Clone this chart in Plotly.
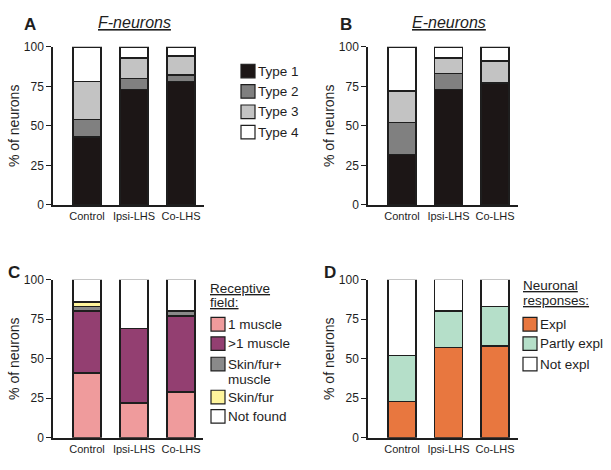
import plotly.graph_objects as go

W, H = 611, 470

groups = ["Control", "Ipsi-LHS", "Co-LHS"]

# Panel A: F-neurons
types = ["Type 1", "Type 2", "Type 3", "Type 4"]
f_type1 = [43, 73, 78]
f_type2 = [11, 7, 4]
f_type3 = [24, 13, 12]
f_type4 = [22, 7, 6]

# Panel B: E-neurons
e_type1 = [32, 73, 77]
e_type2 = [20, 10, 0]
e_type3 = [20, 10, 14]
e_type4 = [28, 7, 9]

# Panel C: receptive field
rf_labels = ["1 muscle", ">1 muscle", "Skin/fur+<br>muscle", "Skin/fur", "Not found"]
rf_one = [41, 22, 29]
rf_multi = [39, 47, 48]
rf_skin_muscle = [3, 0, 3]
rf_skin = [3, 0, 0]
rf_none = [14, 31, 20]

# Panel D: neuronal responses
resp_labels = ["Expl", "Partly expl", "Not expl"]
resp_expl = [23, 57, 58]
resp_partly = [29, 23, 25]
resp_not = [48, 20, 17]

y_ticks = [0, 25, 50, 75, 100]

type_colors = ["#1c1616", "#808080", "#c3c3c3", "#ffffff"]
rf_colors = ["#ef9b9c", "#933f71", "#8a8a8a", "#fff59c", "#ffffff"]
resp_colors = ["#e8773f", "#b5dfc9", "#ffffff"]

INK = "#1e1e1e"
FONT = "Liberation Sans, Arial, sans-serif"

fig = go.Figure()

def px_x(v):
    return v / W

def px_y(v):
    return 1 - v / H

# panel geometry in pixels: axis left/right, y of 0 and 100, first center, spacing
panels = {
    "A": dict(xa="x", ya="y", x0=53, x1=204, ybot=204, ytop=41, c0=87, sp=47),
    "B": dict(xa="x2", ya="y2", x0=368, x1=518, ybot=204, ytop=41, c0=402, sp=46.5),
    "C": dict(xa="x3", ya="y3", x0=53, x1=203, ybot=444, ytop=281, c0=87, sp=47),
    "D": dict(xa="x4", ya="y4", x0=368, x1=518, ybot=444, ytop=281, c0=402, sp=46.5),
}

def add_stack(panel, series, colors):
    p = panels[panel]
    for vals, col in zip(series, colors):
        fig.add_trace(go.Bar(
            x=groups, y=vals, xaxis=p["xa"], yaxis=p["ya"],
            marker=dict(color=col, line=dict(color=INK, width=1.6)),
            width=0.6, showlegend=False, hoverinfo="skip"))

add_stack("A", [f_type1, f_type2, f_type3, f_type4], type_colors)
add_stack("B", [e_type1, e_type2, e_type3, e_type4], type_colors)
add_stack("C", [rf_one, rf_multi, rf_skin_muscle, rf_skin, rf_none], rf_colors)
add_stack("D", [resp_expl, resp_partly, resp_not], resp_colors)

layout = dict(
    width=W, height=H, margin=dict(l=0, r=0, t=0, b=0),
    paper_bgcolor="white", plot_bgcolor="white",
    barmode="stack", font=dict(family=FONT, color=INK),
    showlegend=False,
)

for i, (name, p) in enumerate(panels.items()):
    sfx = "" if i == 0 else str(i + 1)
    left = -(p["c0"] - p["x0"]) / p["sp"]
    right = 2 + (p["x1"] - (p["c0"] + 2 * p["sp"])) / p["sp"]
    layout["xaxis" + sfx] = dict(
        domain=[px_x(p["x0"]), px_x(p["x1"])], anchor="y" + sfx,
        type="category", range=[left, right],
        showline=True, linecolor=INK, linewidth=1.5, ticks="",
        showgrid=False, zeroline=False,
        tickfont=dict(size=11, color=INK), fixedrange=True)
    layout["yaxis" + sfx] = dict(
        domain=[px_y(p["ybot"]), px_y(p["ytop"])], anchor="x" + sfx,
        range=[0, 100], tickvals=y_ticks, ticks="outside", ticklen=5,
        tickwidth=1.3, tickcolor=INK,
        showline=True, linecolor=INK, linewidth=1.5, showgrid=False,
        zeroline=False, tickfont=dict(size=12, color=INK),
        title=dict(text="% of neurons", font=dict(size=14, color=INK), standoff=1),
        fixedrange=True)

fig.update_layout(**layout)

annotations = []
shapes = []

def text(x, y, s, size, xanchor="left", bold=False, italic=False, underline=False):
    if italic:
        s = "<i>" + s + "</i>"
    if bold:
        s = "<b>" + s + "</b>"
    if underline:
        s = "<u>" + s + "</u>"
    annotations.append(dict(
        x=px_x(x), y=px_y(y), xref="paper", yref="paper", text=s,
        showarrow=False, xanchor=xanchor, yanchor="middle",
        font=dict(size=size, color=INK, family=FONT), align="left"))

# panel letters
text(30, 18, "A", 17, "center", bold=True)
text(346, 18, "B", 17, "center", bold=True)
text(14, 274, "C", 17, "center", bold=True)
text(330, 274, "D", 17, "center", bold=True)

# panel titles
text(134, 16, "F-neurons", 16, "center", italic=True, underline=True)
text(449, 16, "E-neurons", 16, "center", italic=True, underline=True)

def swatch(cx, cy, color):
    shapes.append(dict(
        type="rect", xref="paper", yref="paper",
        x0=px_x(cx - 7), x1=px_x(cx + 7), y0=px_y(cy + 7), y1=px_y(cy - 7),
        fillcolor=color, line=dict(color=INK, width=1.2)))

# legend A
for lab, col, cy in zip(types, type_colors, [66, 87, 108, 129]):
    swatch(248, cy, col)
    text(256, cy, lab, 13.5)

# legend C
text(208, 290, "Receptive", 13.5, underline=True)
text(208, 305, "field:", 13.5, underline=True)
for lab, col, cy in zip(rf_labels, rf_colors, [327, 347, 368, 402, 422]):
    swatch(218, cy, col)
    if "<br>" in lab:
        a, b = lab.split("<br>")
        text(226, cy, a, 13.5)
        text(226, cy + 16, b, 13.5)
    else:
        text(226, cy, lab, 13.5)

# legend D
text(521, 287, "Neuronal", 13.5, underline=True)
text(521, 303, "responses:", 13.5, underline=True)
for lab, col, cy in zip(resp_labels, resp_colors, [327, 347, 368]):
    swatch(530, cy, col)
    text(538, cy, lab, 13.5)

fig.update_layout(annotations=annotations, shapes=shapes)

fig.write_html("out.html", config={"displayModeBar": False},
               post_script="document.body.style.margin='0';")
